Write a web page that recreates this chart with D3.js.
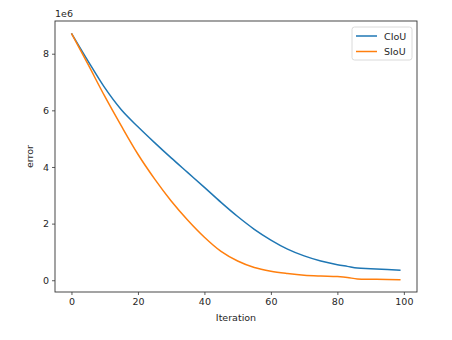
<!DOCTYPE html>
<html>
<head>
<meta charset="utf-8">
<script src="https://cdn.jsdelivr.net/npm/d3@7"></script>
<style>
  html, body { margin: 0; padding: 0; background: #fff; }
  svg { display: block; }
  text { font-family: "DejaVu Sans", sans-serif; fill: #262626; }
</style>
</head>
<body>
<svg id="chart" width="452" height="340"></svg>
<script>
// ---- data ----
const iterations = [0, 5, 10, 15, 20, 25, 30, 35, 40, 45, 50, 55, 60, 65, 70, 75, 80, 83, 86, 90, 95, 99];
const ciou = [8.72, 7.74, 6.80, 6.02, 5.42, 4.86, 4.32, 3.80, 3.28, 2.75, 2.25, 1.80, 1.42, 1.10, 0.86, 0.68, 0.55, 0.49, 0.43, 0.41, 0.38, 0.35];
const siou = [8.72, 7.62, 6.50, 5.45, 4.45, 3.58, 2.80, 2.12, 1.52, 1.02, 0.68, 0.45, 0.32, 0.24, 0.18, 0.15, 0.13, 0.10, 0.045, 0.035, 0.028, 0.02];
const seriesNames = ["CIoU", "SIoU"];
const seriesColors = ["#1f77b4", "#ff7f0e"];
const xTicks = [0, 20, 40, 60, 80, 100];
const yTicks = [0, 2, 4, 6, 8];
const yScaleLabel = "1e6";
const xLabel = "Iteration";
const yLabel = "error";

const series = [ciou, siou];

const svg = d3.select("#chart");
const L = 55, R = 417, T = 21, B = 292;

const xMin = d3.min(iterations), xMax = d3.max(iterations);
const xPad = (xMax - xMin) * 0.05;
const allY = series.flat();
const yMin = d3.min(allY), yMax = d3.max(allY);
const yPad = (yMax - yMin) * 0.05;

const x = d3.scaleLinear().domain([xMin - xPad, xMax + xPad]).range([L, R]);
const y = d3.scaleLinear().domain([yMin - yPad, yMax + yPad]).range([B, T]);

// lines
const line = d3.line().x((d, i) => x(iterations[i])).y(d => y(d)).curve(d3.curveMonotoneX);
series.forEach((s, k) => {
  svg.append("path").datum(s)
    .attr("fill", "none")
    .attr("stroke", seriesColors[k])
    .attr("stroke-width", 1.5)
    .attr("d", line);
});

// axes
const xAxis = d3.axisBottom(x).tickValues(xTicks).tickSize(3).tickPadding(3).tickFormat(d3.format("d"));
const yAxis = d3.axisLeft(y).tickValues(yTicks).tickSize(3).tickPadding(3).tickFormat(d3.format("d"));

const gx = svg.append("g").attr("transform", `translate(0,${B})`).call(xAxis);
const gy = svg.append("g").attr("transform", `translate(${L},0)`).call(yAxis);
[gx, gy].forEach(g => {
  g.select(".domain").remove();
  g.selectAll(".tick line").attr("stroke", "#333").attr("stroke-width", 0.8);
  g.selectAll(".tick text").attr("font-size", "9.5px").attr("fill", "#262626")
    .style("font-family", "DejaVu Sans, sans-serif");
});

// spines
svg.append("rect").attr("x", L).attr("y", T).attr("width", R - L).attr("height", B - T)
  .attr("fill", "none").attr("stroke", "#333").attr("stroke-width", 0.9);

// labels
svg.append("text").attr("x", L).attr("y", T - 4).attr("font-size", "9.5px").text(yScaleLabel);
svg.append("text").attr("x", (L + R) / 2).attr("y", 321).attr("text-anchor", "middle")
  .attr("font-size", "9.5px").text(xLabel);
svg.append("text").attr("transform", `translate(33,${(T + B) / 2}) rotate(-90)`)
  .attr("text-anchor", "middle").attr("font-size", "9.5px").text(yLabel);

// legend
const lg = svg.append("g");
lg.append("rect").attr("x", 352).attr("y", 27).attr("width", 60).attr("height", 33)
  .attr("rx", 2.5).attr("fill", "#fff").attr("fill-opacity", 0.8)
  .attr("stroke", "#d0d0d0").attr("stroke-width", 0.8);
seriesNames.forEach((n, k) => {
  const cy = 36 + k * 15.5;
  lg.append("line").attr("x1", 356).attr("x2", 377).attr("y1", cy).attr("y2", cy)
    .attr("stroke", seriesColors[k]).attr("stroke-width", 1.5);
  lg.append("text").attr("x", 384).attr("y", cy + 3.5).attr("font-size", "9.5px").text(n);
});
</script>
</body>
</html>
